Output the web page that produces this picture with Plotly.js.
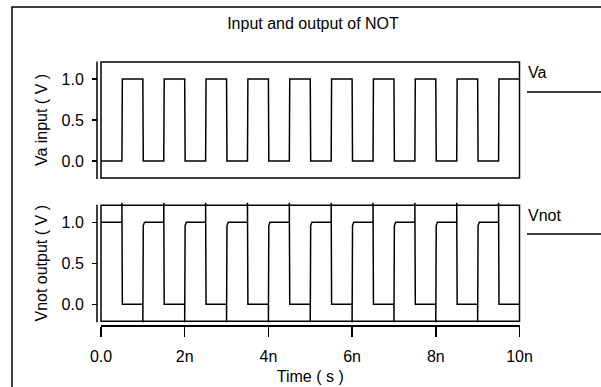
<!DOCTYPE html>
<html>
<head>
<meta charset="utf-8">
<script src="https://cdn.plot.ly/plotly-3.0.1.min.js"></script>
<style>
  html, body { margin: 0; padding: 0; background: #fff; }
  #chart { width: 601px; height: 387px; }
</style>
</head>
<body>
<div id="chart"></div>
<script>
// ---- Data (time in ns) ----
const chartTitle = "Input and output of NOT";
const seriesNames = ["Va", "Vnot"];
const yTitles = ["Va input ( V )", "Vnot output ( V )"];
const xTitle = "Time ( s )";
const xTickVals = [0, 2, 4, 6, 8, 10];
const xTickText = ["0.0", "2n", "4n", "6n", "8n", "10n"];
const yTickVals = [0, 0.5, 1];
const yTickText = ["0.0", "0.5", "1.0"];

const vaTime = [0, 0.5, 0.51, 1.0, 1.01, 1.5, 1.51, 2.0, 2.01, 2.5, 2.51, 3.0, 3.01, 3.5, 3.51, 4.0,
  4.01, 4.5, 4.51, 5.0, 5.01, 5.5, 5.51, 6.0, 6.01, 6.5, 6.51, 7.0, 7.01, 7.5, 7.51, 8.0,
  8.01, 8.5, 8.51, 9.0, 9.01, 9.5, 9.51, 10];
const vaValue = [0, 0, 1, 1, 0, 0, 1, 1, 0, 0, 1, 1, 0, 0, 1, 1,
  0, 0, 1, 1, 0, 0, 1, 1, 0, 0, 1, 1, 0, 0, 1, 1,
  0, 0, 1, 1, 0, 0, 1, 1];

const vnotTime = [0,
  0.5, 0.5, 0.51, 1.0, 1.0, 1.01, 1.04,
  1.5, 1.5, 1.51, 2.0, 2.0, 2.01, 2.04,
  2.5, 2.5, 2.51, 3.0, 3.0, 3.01, 3.04,
  3.5, 3.5, 3.51, 4.0, 4.0, 4.01, 4.04,
  4.5, 4.5, 4.51, 5.0, 5.0, 5.01, 5.04,
  5.5, 5.5, 5.51, 6.0, 6.0, 6.01, 6.04,
  6.5, 6.5, 6.51, 7.0, 7.0, 7.01, 7.04,
  7.5, 7.5, 7.51, 8.0, 8.0, 8.01, 8.04,
  8.5, 8.5, 8.51, 9.0, 9.0, 9.01, 9.04,
  9.5, 9.5, 9.51, 10];
const vnotValue = [1.0,
  1.0, 1.24, 0.0, 0.0, -0.22, 0.96, 1.0,
  1.0, 1.24, 0.0, 0.0, -0.22, 0.96, 1.0,
  1.0, 1.24, 0.0, 0.0, -0.22, 0.96, 1.0,
  1.0, 1.24, 0.0, 0.0, -0.22, 0.96, 1.0,
  1.0, 1.24, 0.0, 0.0, -0.22, 0.96, 1.0,
  1.0, 1.24, 0.0, 0.0, -0.22, 0.96, 1.0,
  1.0, 1.24, 0.0, 0.0, -0.22, 0.96, 1.0,
  1.0, 1.24, 0.0, 0.0, -0.22, 0.96, 1.0,
  1.0, 1.24, 0.0, 0.0, -0.22, 0.96, 1.0,
  1.0, 1.24, 0.0, 0.0];

// ---- Layout helpers (pixel -> paper) ----
const W = 601, H = 387;
const px = v => v / W;
const py = v => 1 - v / H;
const FONT = { family: "Liberation Sans, Arial, sans-serif", size: 16, color: "#000" };
const LW = 1.5;
const yRange = [-0.26, 1.26];
const boxLo = -0.207, boxHi = 1.207;

const traces = [
  { x: vaTime, y: vaValue, xaxis: "x", yaxis: "y", mode: "lines", name: seriesNames[0],
    line: { color: "#000", width: LW, shape: "linear" }, showlegend: false },
  { x: vnotTime, y: vnotValue, xaxis: "x2", yaxis: "y2", mode: "lines", name: seriesNames[1],
    line: { color: "#000", width: LW, shape: "linear" }, showlegend: false }
];

const xDom = [px(101), px(519.5)];
const yAxisCommon = {
  range: yRange, showgrid: false, zeroline: false, showline: false,
  tickmode: "array", tickvals: yTickVals, ticktext: yTickText,
  ticks: "outside", ticklen: 5, tickwidth: LW, tickcolor: "#000",
  ticklabelstandoff: 5,
  tickfont: FONT, anchor: "free", position: px(97), fixedrange: true
};

const layout = {
  width: W, height: H,
  margin: { l: 0, r: 0, t: 0, b: 0, pad: 0 },
  paper_bgcolor: "#fff", plot_bgcolor: "rgba(0,0,0,0)",
  font: FONT,
  showlegend: false,
  title: { text: chartTitle, font: FONT, x: px(313), xanchor: "center", y: py(23), yanchor: "middle", xref: "paper", yref: "container" },
  xaxis: { domain: xDom, range: [0, 10], anchor: "y", showgrid: false, zeroline: false,
    showline: false, showticklabels: false, ticks: "", fixedrange: true },
  xaxis2: { domain: xDom, range: [0, 10], anchor: "free", position: py(325), showgrid: false, zeroline: false,
    showline: true, linecolor: "#000", linewidth: LW,
    tickmode: "array", tickvals: xTickVals, ticktext: xTickText,
    ticks: "outside", ticklen: 10, tickwidth: LW, tickcolor: "#000", tickfont: FONT,
    ticklabelstandoff: 6,
    title: { text: xTitle, font: FONT, standoff: 7 }, fixedrange: true },
  yaxis: Object.assign({}, yAxisCommon, { domain: [py(182.3), py(57.7)],
    title: { text: yTitles[0], font: FONT, standoff: 8 } }),
  yaxis2: Object.assign({}, yAxisCommon, { domain: [py(325.6), py(201.0)],
    title: { text: yTitles[1], font: FONT, standoff: 8 } }),
  shapes: [
    // outer border
    { type: "rect", xref: "paper", yref: "paper", x0: px(12), x1: 1.1, y0: -0.1, y1: py(7),
      line: { color: "#000", width: LW } },
    // plot boxes
    { type: "rect", xref: "x domain", yref: "y", x0: 0, x1: 1, y0: boxLo, y1: boxHi,
      line: { color: "#000", width: LW } },
    { type: "rect", xref: "x2 domain", yref: "y2", x0: 0, x1: 1, y0: boxLo, y1: boxHi,
      line: { color: "#000", width: LW } },
    // y axis lines (offset left of boxes)
    { type: "line", xref: "paper", yref: "y", x0: px(97), x1: px(97), y0: -0.22, y1: 1.213,
      line: { color: "#000", width: LW } },
    { type: "line", xref: "paper", yref: "y2", x0: px(97), x1: px(97), y0: -0.22, y1: 1.213,
      line: { color: "#000", width: LW } },
    // legend lines
    { type: "line", xref: "paper", yref: "paper", x0: px(527), x1: 1.01, y0: py(92), y1: py(92),
      line: { color: "#000", width: LW } },
    { type: "line", xref: "paper", yref: "paper", x0: px(527), x1: 1.01, y0: py(234), y1: py(234),
      line: { color: "#000", width: LW } }
  ],
  annotations: [
    { text: seriesNames[0], xref: "paper", yref: "paper", x: px(526), y: py(72),
      xanchor: "left", yanchor: "middle", showarrow: false, font: FONT },
    { text: seriesNames[1], xref: "paper", yref: "paper", x: px(526), y: py(215),
      xanchor: "left", yanchor: "middle", showarrow: false, font: FONT }
  ]
};

Plotly.newPlot("chart", traces, layout, { staticPlot: true, displayModeBar: false });
</script>
</body>
</html>
